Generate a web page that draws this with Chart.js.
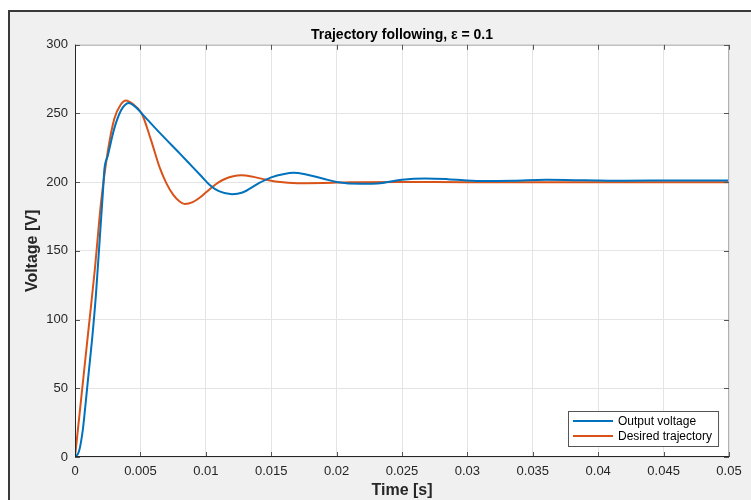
<!DOCTYPE html>
<html>
<head>
<meta charset="utf-8">
<script src="https://cdn.jsdelivr.net/npm/chart.js@4.4.1/dist/chart.umd.min.js"></script>
<style>
  html, body { margin: 0; padding: 0; background: #fff; }
  #wrap { position: relative; width: 751px; height: 500px; overflow: hidden; }
  #fig {
    position: absolute; left: 8px; top: 10px; right: 0; bottom: 0;
    background: #f0f0f0;
    border-left: 2px solid #3a3a3a; border-top: 2px solid #3a3a3a;
  }
  #chart { position: absolute; left: 0; top: 0; }
</style>
</head>
<body>
<div id="wrap">
  <div id="fig"></div>
  <canvas id="chart" width="751" height="500"></canvas>
</div>
<script>
// time [s] and voltage [V]
const desiredT = [0, 0.0005, 0.001, 0.0015, 0.002, 0.0025, 0.003, 0.0035, 0.0039, 0.0044, 0.0051, 0.0058, 0.0065, 0.007, 0.0075, 0.008, 0.0084, 0.009, 0.0095, 0.01, 0.0105, 0.011, 0.0115, 0.0121, 0.0127, 0.0135, 0.0145, 0.0155, 0.017, 0.019, 0.021, 0.025, 0.03, 0.04, 0.05];
const desiredV = [0, 45, 90, 135, 186, 222, 246, 256.5, 259.5, 257, 250, 231, 210, 199, 191, 186, 184.2, 185.5, 188.5, 192.5, 196.5, 200, 202.5, 204.3, 205, 204.2, 202, 200.3, 199.3, 199.4, 200, 200.2, 200, 200, 200];

const outputT = [0, 0.0003, 0.0006, 0.0008, 0.001, 0.0013, 0.0016, 0.0019, 0.00215, 0.00225, 0.0025, 0.003, 0.0035, 0.0038, 0.0041, 0.0046, 0.0052, 0.0065, 0.008, 0.009, 0.0097, 0.0103, 0.011, 0.012, 0.0128, 0.014, 0.015, 0.016, 0.0167, 0.0175, 0.019, 0.02, 0.0218, 0.0235, 0.025, 0.0268, 0.0285, 0.031, 0.0335, 0.036, 0.039, 0.042, 0.046, 0.05];
const outputV = [0, 4, 20, 38, 57, 85, 118, 160, 195, 209.5, 219, 239, 252, 256, 257.6, 255, 249, 235.7, 221, 211, 204, 198, 193.5, 191.3, 192.5, 199, 203.5, 206, 206.8, 206, 202.5, 200.2, 198.8, 199.5, 201.8, 202.7, 202.2, 200.8, 201, 201.7, 201.4, 201, 201.3, 201.2];

const xTicks = [0, 0.005, 0.01, 0.015, 0.02, 0.025, 0.03, 0.035, 0.04, 0.045, 0.05];
const yTicks = [0, 50, 100, 150, 200, 250, 300];

const FONT = "'Liberation Sans', Arial, Helvetica, sans-serif";
const TEXT = '#262626';

function pts(ts, vs) {
    return ts.map((t, i) => ({x: t, y: vs[i]}));
}

// white plot background, MATLAB-like box with inward ticks, legend inside the axes
const matlabAxes = {
    id: 'matlabAxes',
    beforeDraw(chart) {
        const a = chart.chartArea, c = chart.ctx;
        c.save();
        c.fillStyle = '#fff';
        c.fillRect(a.left, a.top, a.right - a.left, a.bottom - a.top);
        c.restore();
    },
    afterDatasetsDraw(chart) {
        const a = chart.chartArea, c = chart.ctx;
        const xs = chart.scales.x, ys = chart.scales.y;
        c.save();
        c.lineWidth = 1;
        c.strokeStyle = '#b0b0b0';
        c.beginPath();
        c.moveTo(a.left, a.top + 0.5); c.lineTo(a.right, a.top + 0.5);
        c.moveTo(a.right - 0.5, a.top); c.lineTo(a.right - 0.5, a.bottom);
        c.stroke();
        c.strokeStyle = '#555';
        c.beginPath();
        xTicks.forEach(v => {
            const px = Math.round(xs.getPixelForValue(v)) + 0.5;
            c.moveTo(px, a.bottom); c.lineTo(px, a.bottom - 5);
            c.moveTo(px, a.top); c.lineTo(px, a.top + 5);
        });
        yTicks.forEach(v => {
            const py = Math.round(ys.getPixelForValue(v)) + 0.5;
            c.moveTo(a.left, py); c.lineTo(a.left + 5, py);
            c.moveTo(a.right, py); c.lineTo(a.right - 5, py);
        });
        c.stroke();
        c.strokeStyle = '#262626';
        c.beginPath();
        c.moveTo(a.left + 0.5, a.top); c.lineTo(a.left + 0.5, a.bottom);
        c.moveTo(a.left, a.bottom - 0.5); c.lineTo(a.right, a.bottom - 0.5);
        c.stroke();
        c.restore();
    },
    afterDraw(chart) {
        const a = chart.chartArea, c = chart.ctx;
        const sets = chart.data.datasets;
        c.save();
        c.font = '12px ' + FONT;
        const textW = Math.max(...sets.map(d => c.measureText(d.label).width));
        const w = 50 + textW + 6, h = 35;
        const x0 = Math.round(a.right - 11 - w), y0 = Math.round(a.bottom - 11 - h);
        c.fillStyle = '#fff';
        c.fillRect(x0, y0, w, h);
        c.strokeStyle = '#555';
        c.lineWidth = 1;
        c.strokeRect(x0 + 0.5, y0 + 0.5, w, h);
        sets.forEach((d, i) => {
            const yy = y0 + 10 + i * 15;
            c.strokeStyle = d.borderColor;
            c.lineWidth = 2;
            c.beginPath();
            c.moveTo(x0 + 5, yy); c.lineTo(x0 + 45, yy);
            c.stroke();
            c.fillStyle = '#000';
            c.textBaseline = 'middle';
            c.fillText(d.label, x0 + 50, yy + 0.5);
        });
        c.restore();
    }
};

new Chart(document.getElementById('chart'), {
    type: 'line',
    data: {
        datasets: [
            {
                label: 'Output voltage',
                data: pts(outputT, outputV),
                borderColor: '#0072BD',
                borderWidth: 2,
                pointRadius: 0,
                cubicInterpolationMode: 'monotone'
            },
            {
                label: 'Desired trajectory',
                data: pts(desiredT, desiredV),
                borderColor: '#D95319',
                borderWidth: 2,
                pointRadius: 0,
                cubicInterpolationMode: 'monotone'
            }
        ]
    },
    options: {
        responsive: false,
        animation: false,
        layout: {padding: {left: 0, top: 0, right: 22, bottom: 0}},
        plugins: {
            legend: {display: false},
            tooltip: {enabled: false},
            title: {
                display: true,
                fullSize: false,
                text: 'Trajectory following, ε = 0.1',
                color: '#000',
                font: {family: FONT, size: 14, weight: 'bold'},
                padding: {top: 27, bottom: 1}
            }
        },
        scales: {
            x: {
                type: 'linear',
                min: 0,
                max: 0.05,
                afterFit: s => { s.height = 43; },
                afterBuildTicks: s => { s.ticks = xTicks.map(v => ({value: v})); },
                ticks: {
                    autoSkip: false,
                    maxRotation: 0,
                    padding: 7,
                    color: TEXT,
                    font: {family: FONT, size: 13},
                    callback: v => String(Math.round(v * 1000) / 1000)
                },
                grid: {color: '#e4e4e4', drawTicks: false},
                border: {display: false},
                title: {
                    display: true,
                    text: 'Time [s]',
                    color: TEXT,
                    font: {family: FONT, size: 16, weight: 'bold'},
                    padding: {top: 0, bottom: 0}
                }
            },
            y: {
                min: 0,
                max: 300,
                afterFit: s => { s.width = 75; },
                afterBuildTicks: s => { s.ticks = yTicks.map(v => ({value: v})); },
                ticks: {
                    padding: 7,
                    color: TEXT,
                    font: {family: FONT, size: 13}
                },
                grid: {color: '#e4e4e4', drawTicks: false},
                border: {display: false},
                title: {
                    display: true,
                    text: 'Voltage [V]',
                    color: TEXT,
                    font: {family: FONT, size: 16, weight: 'bold'},
                    padding: {top: 23, bottom: 0}
                }
            }
        }
    },
    plugins: [matlabAxes]
});
</script>
</body>
</html>
